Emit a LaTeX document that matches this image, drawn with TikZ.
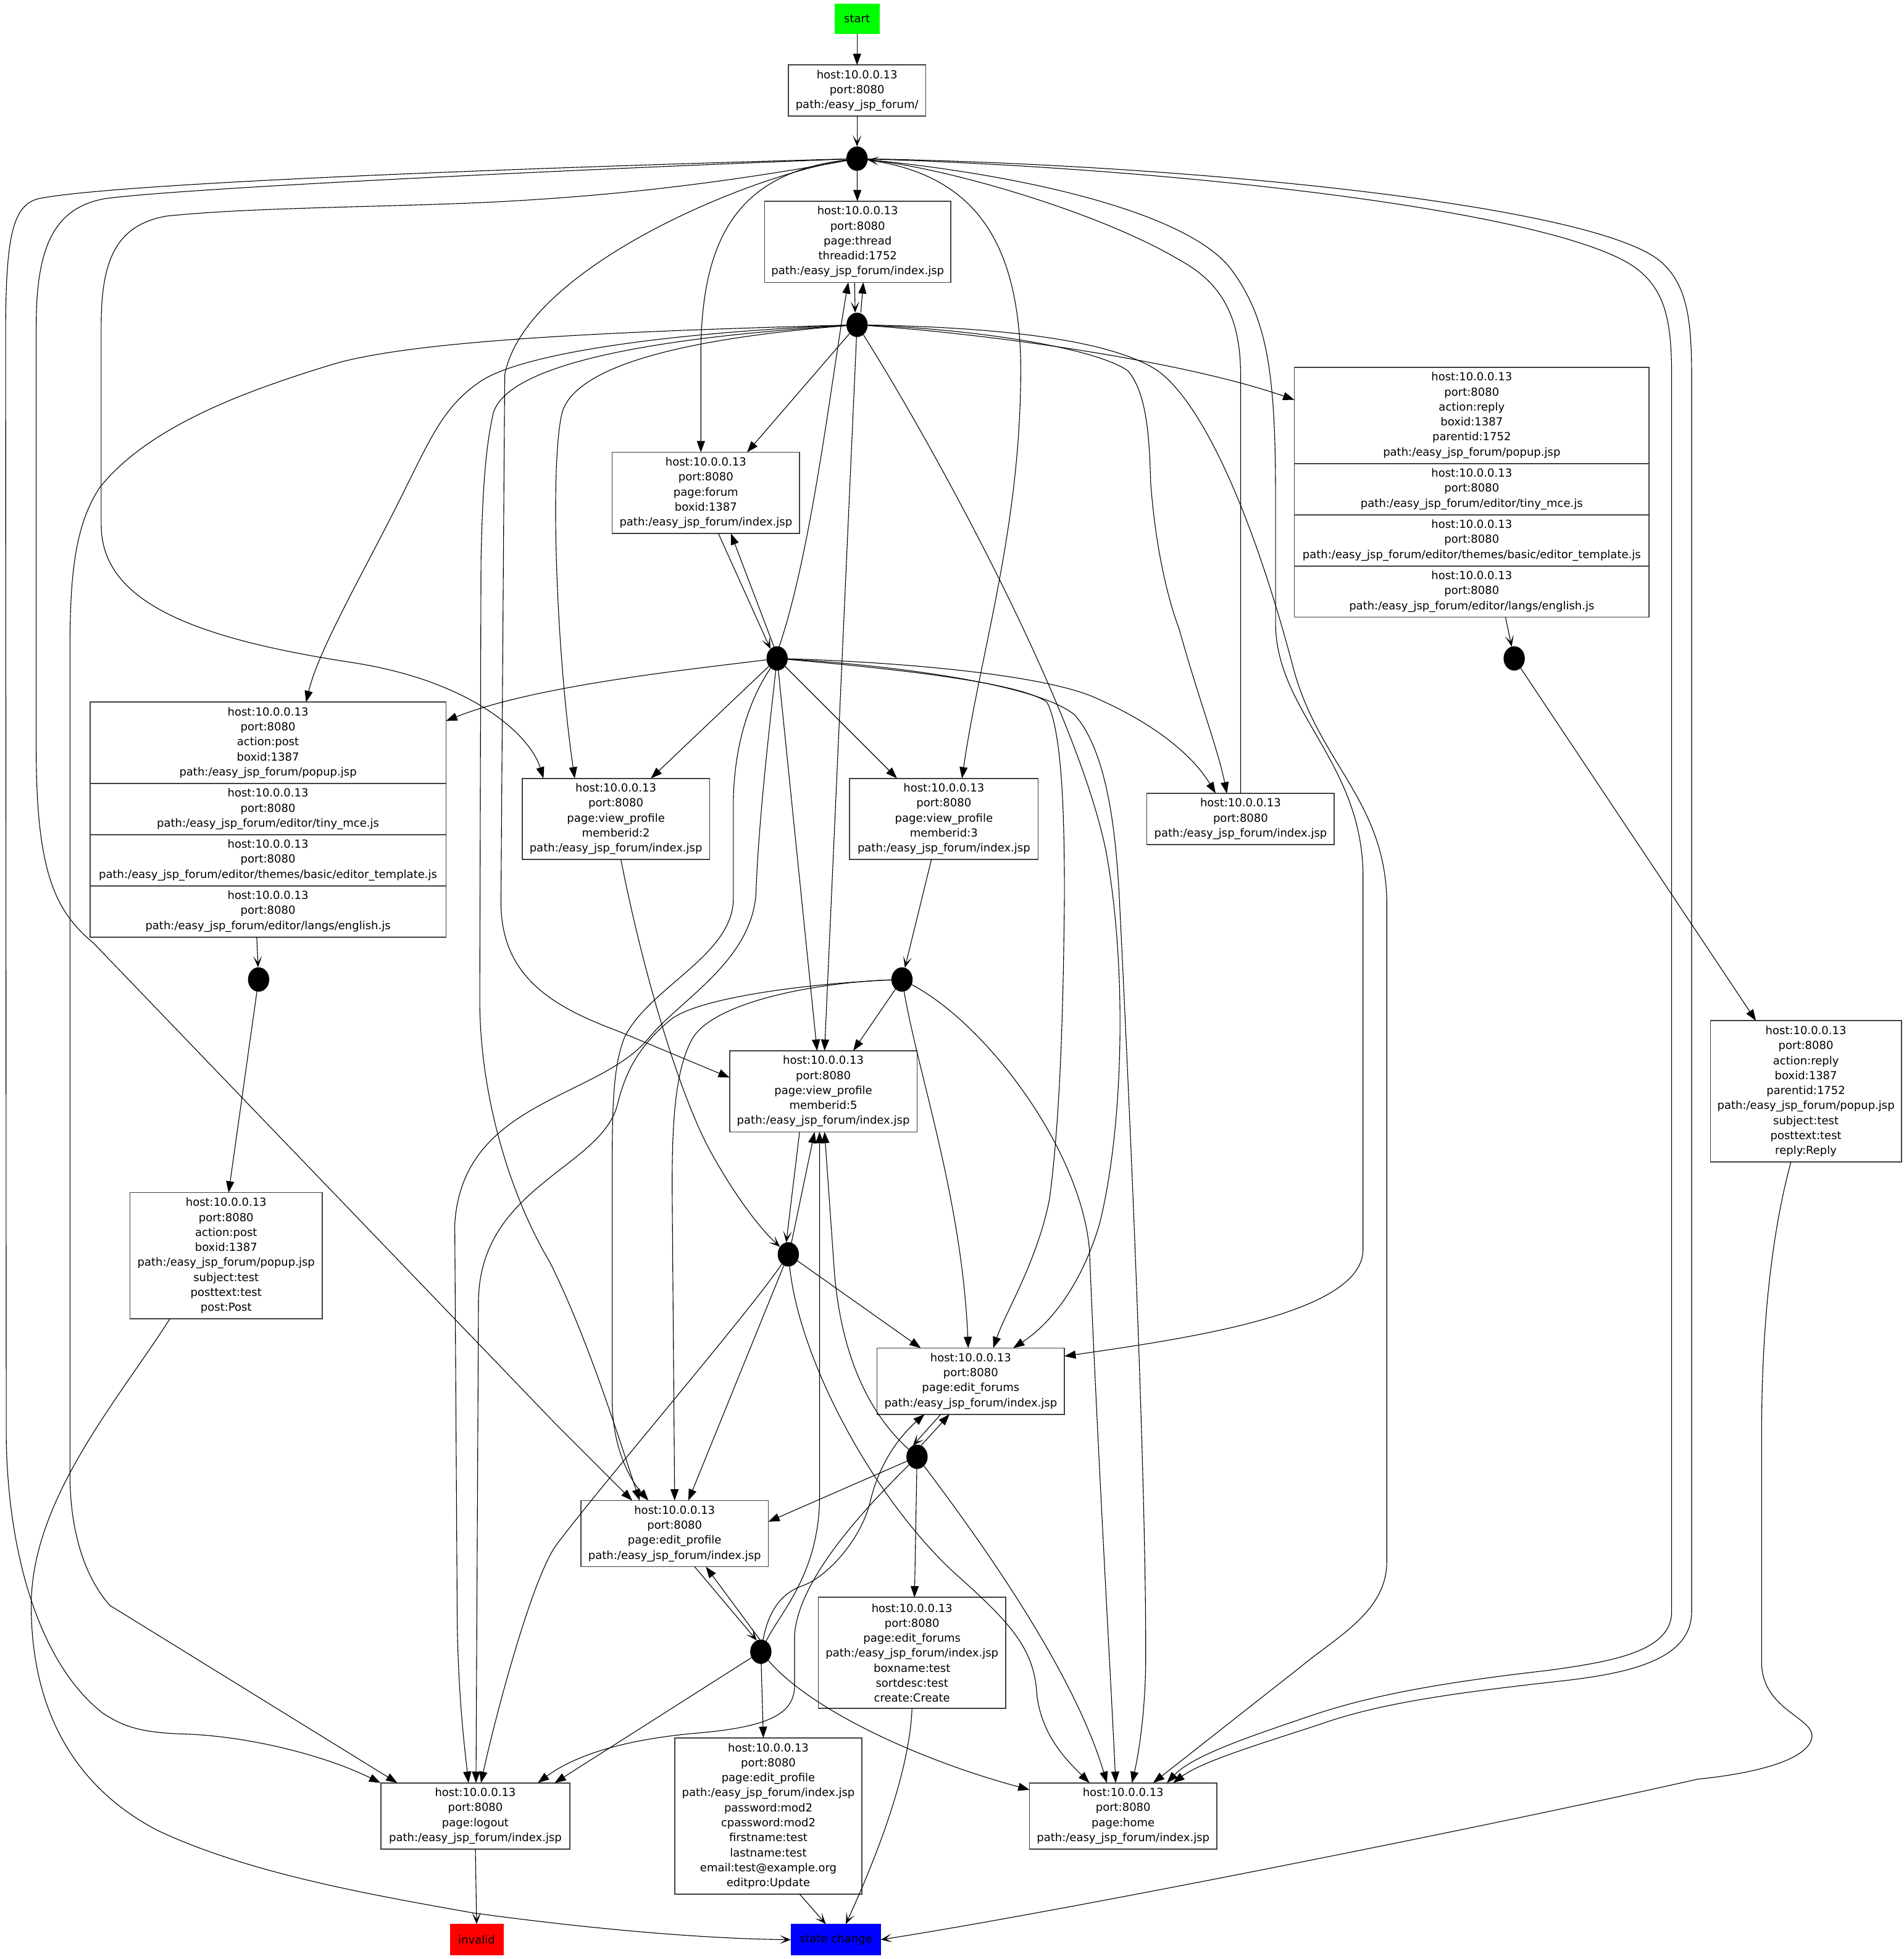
\documentclass[tikz,border=0pt]{standalone}
\usepackage{fontspec}
\setmainfont{DejaVu Sans}
\usetikzlibrary{arrows.meta,shapes.geometric}
\definecolor{gvgreen}{RGB}{0,255,0}
\definecolor{gvred}{RGB}{255,0,0}
\definecolor{gvblue}{RGB}{0,0,255}
\begin{document}
\begin{tikzpicture}[x=1pt,y=-1pt,
  every node/.style={inner sep=0pt, outer sep=0pt, font=\fontsize{8.9}{12}\selectfont, align=center},
  box/.style={draw=black!75, line width=0.8pt, rectangle, minimum width=150pt, minimum height=#1},
  box/.default=53pt,
  hold/.style={rectangle, minimum width=#1},
  dot/.style={ellipse, fill=black, minimum width=17pt, minimum height=19.5pt},
  conn/.style={line width=0.55pt, draw=black},
  fa/.style={-{Triangle[length=9pt,width=6.5pt]}},
  va/.style={-{Stealth[length=9pt,width=7pt,inset=5pt]}}]

\useasboundingbox (0,0) rectangle (1524,1568);

% ---------- nodes ----------
\node[box=24pt, minimum width=36pt, fill=gvgreen, draw=none] (start) at (686,15) {start};
\node[box=41pt, minimum width=110pt] (root) at (686,72.5) {host:10.0.0.13\\port:8080\\path:/easy\_jsp\_forum/};
\node[dot] (c1) at (686,127) {};
\node[box=65pt, minimum width=149pt] (thread) at (686.5,193.5) {host:10.0.0.13\\port:8080\\page:thread\\threadid:1752\\path:/easy\_jsp\_forum/index.jsp};
\node[dot] (c2) at (686,260) {};

% reply popup record
\node[box=77pt, minimum width=284pt] (rpA) at (1178,332.5) {host:10.0.0.13\\port:8080\\action:reply\\boxid:1387\\parentid:1752\\path:/easy\_jsp\_forum/popup.jsp};
\node[box=41pt, minimum width=284pt] (rpB) at (1178,391.5) {host:10.0.0.13\\port:8080\\path:/easy\_jsp\_forum/editor/tiny\_mce.js};
\node[box=41pt, minimum width=284pt] (rpC) at (1178,432.5) {host:10.0.0.13\\port:8080\\path:/easy\_jsp\_forum/editor/themes/basic/editor\_template.js};
\node[box=41pt, minimum width=284pt] (rpD) at (1178,473.5) {host:10.0.0.13\\port:8080\\path:/easy\_jsp\_forum/editor/langs/english.js};
\node[hold=284pt, minimum height=200pt] (replyPopup) at (1178,394) {};

\node[box=65pt] (forum) at (565,394.5) {host:10.0.0.13\\port:8080\\page:forum\\boxid:1387\\path:/easy\_jsp\_forum/index.jsp};
\node[dot] (c3) at (622,527) {};
\node[dot] (cR) at (1212,527) {};

% post popup record
\node[box=65pt, minimum width=285pt] (ppA) at (214.5,594.5) {host:10.0.0.13\\port:8080\\action:post\\boxid:1387\\path:/easy\_jsp\_forum/popup.jsp};
\node[box=41pt, minimum width=285pt] (ppB) at (214.5,647.5) {host:10.0.0.13\\port:8080\\path:/easy\_jsp\_forum/editor/tiny\_mce.js};
\node[box=41pt, minimum width=285pt] (ppC) at (214.5,688.5) {host:10.0.0.13\\port:8080\\path:/easy\_jsp\_forum/editor/themes/basic/editor\_template.js};
\node[box=41pt, minimum width=285pt] (ppD) at (214.5,729.5) {host:10.0.0.13\\port:8080\\path:/easy\_jsp\_forum/editor/langs/english.js};
\node[hold=285pt, minimum height=188pt] (postPopup) at (214.5,656) {};

\node[box=65pt] (vp2) at (493,655.5) {host:10.0.0.13\\port:8080\\page:view\_profile\\memberid:2\\path:/easy\_jsp\_forum/index.jsp};
\node[box=65pt, minimum width=151pt] (vp3) at (755.5,655.5) {host:10.0.0.13\\port:8080\\page:view\_profile\\memberid:3\\path:/easy\_jsp\_forum/index.jsp};
\node[box=41pt] (index) at (993,655.5) {host:10.0.0.13\\port:8080\\path:/easy\_jsp\_forum/index.jsp};
\node[dot] (cP) at (207,784) {};
\node[dot] (c4) at (722,784) {};
\node[box=65pt] (vp5) at (659,873.5) {host:10.0.0.13\\port:8080\\page:view\_profile\\memberid:5\\path:/easy\_jsp\_forum/index.jsp};
\node[box=113pt, minimum width=153pt] (replySubmit) at (1445.5,873.5) {host:10.0.0.13\\port:8080\\action:reply\\boxid:1387\\parentid:1752\\path:/easy\_jsp\_forum/popup.jsp\\subject:test\\posttext:test\\reply:Reply};
\node[box=101pt, minimum width=154pt] (postSubmit) at (181,1005) {host:10.0.0.13\\port:8080\\action:post\\boxid:1387\\path:/easy\_jsp\_forum/popup.jsp\\subject:test\\posttext:test\\post:Post};
\node[dot] (c5) at (631,1004) {};
\node[box=53pt] (ef) at (777,1105.5) {host:10.0.0.13\\port:8080\\page:edit\_forums\\path:/easy\_jsp\_forum/index.jsp};
\node[dot] (c6) at (734,1166) {};
\node[box=53pt] (ep) at (540,1227.5) {host:10.0.0.13\\port:8080\\page:edit\_profile\\path:/easy\_jsp\_forum/index.jsp};
\node[dot] (c7) at (609,1322) {};
\node[box=89pt] (efCreate) at (730,1323) {host:10.0.0.13\\port:8080\\page:edit\_forums\\path:/easy\_jsp\_forum/index.jsp\\boxname:test\\sortdesc:test\\create:Create};
\node[box=53pt, minimum width=151pt] (logout) at (380.5,1453.5) {host:10.0.0.13\\port:8080\\page:logout\\path:/easy\_jsp\_forum/index.jsp};
\node[box=125pt] (epUpdate) at (615,1453.5) {host:10.0.0.13\\port:8080\\page:edit\_profile\\path:/easy\_jsp\_forum/index.jsp\\password:mod2\\cpassword:mod2\\firstname:test\\lastname:test\\email:test@example.org\\editpro:Update};
\node[box=53pt] (home) at (899,1453.5) {host:10.0.0.13\\port:8080\\page:home\\path:/easy\_jsp\_forum/index.jsp};
\node[box=25pt, minimum width=43pt, fill=gvred, draw=none] (invalid) at (381.5,1552.5) {invalid};
\node[box=25pt, minimum width=72pt, fill=gvblue, draw=none] (statechange) at (669,1552.5) {state change};

% ---------- entry ----------
\draw[conn,fa] (start) -- (root);
\draw[conn,va] (root) -- (c1);
\draw[conn,fa] (c1) -- (thread);
\draw[conn,va] ([xshift=-2.5]thread.south) -- ([xshift=-1.5]c2.north);
\draw[conn,fa] ([xshift=3]c2.north) -- ([xshift=4.5]thread.south);

% ---------- from c1 ----------
\draw[conn,fa] (c1) .. controls (595,138) and (562,185) .. (561,280) -- ([xshift=-4]forum.north);
\draw[conn,fa] (c1) .. controls (785,140) and (815,200) .. (817,290) .. controls (818,420) and (785,520) .. ([xshift=14.5]vp3.north);
\draw[conn,fa] (c1) .. controls (560,150) and (470,158) .. (389,162) .. controls (300,166) and (200,166) .. (133,173) .. controls (95,180) and (81,205) .. (81,260) -- (81,420) .. controls (81,480) and (150,510) .. (280,530) .. controls (380,545) and (425,590) .. ([xshift=-58]vp2.north);
\draw[conn,fa] (c1) .. controls (600,140) and (420,215) .. (404,300) -- (401,720) .. controls (400,780) and (440,805) .. (494,825) -- ([yshift=11]vp5.west);
\draw[conn,fa] (c1) .. controls (500,134) and (150,150) .. (84,159) .. controls (45,166) and (29,195) .. (29,260) -- (29,600) .. controls (29,700) and (45,730) .. (75,755) -- (445,1140) .. controls (470,1165) and (490,1185) .. ([xshift=-34]ep.north);
\draw[conn,fa] (c1) .. controls (500,132) and (100,145) .. (31,159) .. controls (10,164) and (5,190) .. (4.5,260) -- (5,1150) .. controls (6,1240) and (30,1330) .. (82,1371) .. controls (100,1383) and (115,1387) .. (150,1388) .. controls (200,1390) and (260,1405) .. ([xshift=-76]logout.north);
\draw[conn,fa] (c1) .. controls (820,140) and (950,170) .. (985,215) .. controls (1015,255) and (1021,300) .. (1021,400) -- (1021,500) .. controls (1022,570) and (1090,610) .. (1091,700) -- (1091,1000) .. controls (1091,1050) and (960,1070) .. ([yshift=20]ef.east);
\draw[conn,fa] (c1) .. controls (950,135) and (1250,170) .. (1310,215) .. controls (1332,232) and (1338,255) .. (1338,300) -- (1338,1290) .. controls (1338,1322) and (1290,1330) .. (1239,1337) .. controls (1160,1346) and (1100,1356) .. (1050,1373) .. controls (1000,1390) and (955,1405) .. ([xshift=35]home.north);
\draw[conn,fa] (c1) .. controls (960,132) and (1280,165) .. (1330,210) .. controls (1350,228) and (1354,255) .. (1354,300) -- (1354,1290) .. controls (1354,1330) and (1300,1340) .. (1245,1346) .. controls (1165,1355) and (1105,1363) .. (1057,1380) .. controls (1005,1397) and (962,1410) .. ([xshift=40]home.north);
\draw[conn,va] (index.north) -- (993,300) .. controls (993,250) and (975,225) .. (944,208) .. controls (880,170) and (760,135) .. (c1);

% ---------- from c2 ----------
\draw[conn,fa] (c2) -- ([xshift=33]forum.north);
\draw[conn,fa] (c2) -- ([xshift=1]vp5.north);
\draw[conn,fa] (c2) .. controls (800,268) and (950,290) .. ([yshift=74]replyPopup.west);
\draw[conn,fa] (c2) .. controls (540,266) and (420,282) .. (385,305) .. controls (355,325) and (345,350) .. (320,400) .. controls (290,460) and (255,520) .. ([xshift=30.5]postPopup.north);
\draw[conn,fa] (c2) .. controls (560,270) and (462,290) .. (450,330) .. controls (440,370) and (445,520) .. ([xshift=-33]vp2.north);
\draw[conn,fa] (c2) .. controls (560,268) and (410,285) .. (395,330) .. controls (388,360) and (386,400) .. (385,450) -- (384,800) .. controls (384,880) and (410,960) .. (440,1010) .. controls (470,1070) and (495,1150) .. ([xshift=-28]ep.north);
\draw[conn,fa] (c2) .. controls (500,265) and (330,272) .. (265,292) .. controls (200,312) and (120,340) .. (80,390) .. controls (60,420) and (56,460) .. (56,520) -- (56,1180) .. controls (56,1230) and (70,1265) .. (88,1285) -- ([xshift=-62.5]logout.north);
\draw[conn,fa] (c2) .. controls (740,345) and (860,560) .. (885,680) .. controls (902,770) and (900,900) .. (880,980) .. controls (865,1030) and (840,1060) .. ([xshift=34]ef.north);
\draw[conn,fa] (c2) .. controls (790,264) and (880,280) .. (903,297) .. controls (918,315) and (920,350) .. (921,386) .. controls (925,440) and (935,480) .. (944,504) .. controls (958,555) and (975,600) .. ([xshift=-11]index.north);
\draw[conn,fa] (c2) .. controls (800,262) and (890,272) .. (927,297) .. controls (965,325) and (1005,420) .. (1035,534) .. controls (1055,610) and (1108,640) .. (1110,720) -- (1110,1250) .. controls (1110,1290) and (1070,1310) .. (1040,1335) -- ([xshift=24]home.north);

% ---------- from c3 ----------
\draw[conn,va] ([xshift=10]forum.south) -- (c3.125);
\draw[conn,fa] (c3.105) -- ([xshift=20]forum.south);
\draw[conn,fa] (c3.80) .. controls (650,440) and (666,300) .. ([xshift=-7.5]thread.south);
\draw[conn,fa] (c3) .. controls (560,535) and (430,548) .. ([yshift=79]postPopup.east);
\draw[conn,fa] (c3) -- ([xshift=28]vp2.north);
\draw[conn,fa] (c3) -- ([xshift=-37.5]vp3.north);
\draw[conn,fa] (c3) -- ([xshift=-5]vp5.north);
\draw[conn,fa] (c3) .. controls (720,530) and (840,540) .. (880,560) .. controls (925,580) and (955,605) .. ([xshift=-20]index.north);
\draw[conn,fa] (c3) .. controls (700,534) and (815,545) .. (838,562) .. controls (850,585) and (852,650) .. (852,717) .. controls (851,820) and (848,900) .. (840,960) .. controls (830,1010) and (805,1050) .. ([xshift=18]ef.north);
\draw[conn,fa] (c3) .. controls (720,533) and (830,548) .. (860,572) .. controls (885,600) and (893,660) .. (896,720) .. controls (905,900) and (918,1200) .. (917,1335) .. controls (916,1380) and (910,1410) .. ([xshift=7]home.north);
\draw[conn,fa] (c3) .. controls (603,555) and (588,590) .. (587,640) -- (587,720) .. controls (586,765) and (520,790) .. (500,830) .. controls (490,855) and (490,890) .. (490,950) -- (490,1120) .. controls (490,1160) and (505,1185) .. ([xshift=-21]ep.north);
\draw[conn,fa] (c3) .. controls (615,590) and (607,660) .. (605,717) .. controls (600,770) and (545,800) .. (520,830) .. controls (480,880) and (370,880) .. (364,980) -- (366,1300) .. controls (367,1360) and (372,1400) .. ([xshift=-5.5]logout.north);

% ---------- from c4 ----------
\draw[conn,va] ([xshift=-10]vp3.south) -- (c4);
\draw[conn,fa] (c4) -- ([xshift=24]vp5.north);
\draw[conn,fa] (c4) .. controls (735,860) and (770,960) .. ([xshift=-2]ef.north);
\draw[conn,fa] (c4) .. controls (790,820) and (865,920) .. (872,1000) .. controls (878,1150) and (890,1360) .. ([xshift=-6]home.north);
\draw[conn,fa] (c4) .. controls (660,786) and (575,800) .. (555,830) .. controls (540,855) and (538,900) .. (538,950) -- (ep.north);
\draw[conn,fa] (c4) .. controls (650,787) and (560,798) .. (537,816) .. controls (510,838) and (500,860) .. (494,885) .. controls (480,935) and (385,950) .. (383,1040) -- ([xshift=0.5]logout.north);

% ---------- from c5 ----------
\draw[conn,va] ([xshift=4]vp2.south) .. controls (515,780) and (545,880) .. (570,924) .. controls (590,960) and (610,985) .. (c5);
\draw[conn,va] ([xshift=-19]vp5.south) -- (c5.100);
\draw[conn,fa] (c5.75) -- ([xshift=-7]vp5.south);
\draw[conn,fa] (c5) -- ([xshift=-40]ef.north);
\draw[conn,fa] (c5) -- ([xshift=11]ep.north);
\draw[conn,fa] (c5) .. controls (600,1050) and (480,1190) .. (445,1237) .. controls (425,1265) and (395,1380) .. ([xshift=4.5]logout.north);
\draw[conn,fa] (c5) .. controls (640,1090) and (700,1200) .. (764,1259) .. controls (810,1300) and (828,1320) .. (830,1357) .. controls (834,1390) and (855,1410) .. ([xshift=-27]home.north);

% ---------- from c6 ----------
\draw[conn,va] ([xshift=-24]ef.south) -- (c6.110);
\draw[conn,fa] (c6.70) -- ([xshift=-17]ef.south);
\draw[conn,fa] (c6) .. controls (705,1140) and (675,1100) .. (668,1020) -- ([xshift=1]vp5.south);
\draw[conn,fa] (c6) -- ([yshift=9.5]ep.east);
\draw[conn,fa] (c6) -- ([xshift=2]efCreate.north);
\draw[conn,fa] (c6) .. controls (790,1240) and (860,1340) .. ([xshift=-13]home.north);
\draw[conn,fa] (c6) .. controls (700,1200) and (640,1260) .. (636,1308) -- (636,1349) .. controls (636,1372) and (615,1382) .. (560,1387) .. controls (500,1392) and (460,1405) .. ([xshift=50]logout.north);

% ---------- from c7 ----------
\draw[conn,va] ([xshift=16]ep.south) -- (c7.110);
\draw[conn,fa] (c7.95) -- ([xshift=25]ep.south);
\draw[conn,fa] (c7) .. controls (615,1290) and (625,1275) .. (643,1269) .. controls (662,1262) and (690,1232) .. (697,1200) .. controls (705,1168) and (722,1148) .. ([xshift=-37]ef.south);
\draw[conn,fa] (c7) .. controls (625,1290) and (655,1260) .. (656,1200) -- ([xshift=-3]vp5.south);
\draw[conn,fa] (c7) -- ([xshift=63.5]logout.north);
\draw[conn,fa] (c7) -- ([xshift=-4]epUpdate.north);
\draw[conn,fa] (c7) .. controls (650,1370) and (740,1410) .. ([yshift=21]home.west);

% ---------- popups ----------
\draw[conn,va] ([xshift=-9]postPopup.south) -- (cP);
\draw[conn,fa] (cP) -- ([xshift=2]postSubmit.north);
\draw[conn,va] ([xshift=27]replyPopup.south) -- (cR);
\draw[conn,fa] (cR) -- ([xshift=-40]replySubmit.north);

% ---------- terminals ----------
\draw[conn,va] (logout.south) -- (invalid.north);
\draw[conn,va] ([xshift=-45]postSubmit.south) .. controls (95,1120) and (25,1200) .. (25,1285) .. controls (25,1340) and (40,1420) .. (126,1465) .. controls (200,1500) and (300,1517) .. (378,1531) .. controls (480,1545) and (570,1552) .. (statechange.west);
\draw[conn,va] ([xshift=-12]replySubmit.south) .. controls (1420,980) and (1410,1050) .. (1410,1150) -- (1410,1330) .. controls (1410,1370) and (1455,1375) .. (1450,1392) .. controls (1445,1410) and (1400,1420) .. (1359,1424) .. controls (1200,1460) and (850,1530) .. (statechange.east);
\draw[conn,va] (efCreate.south) .. controls (728,1420) and (700,1490) .. ([xshift=8]statechange.north);
\draw[conn,va] ([xshift=25]epUpdate.south) -- ([xshift=-8]statechange.north);

\end{tikzpicture}
\end{document}
